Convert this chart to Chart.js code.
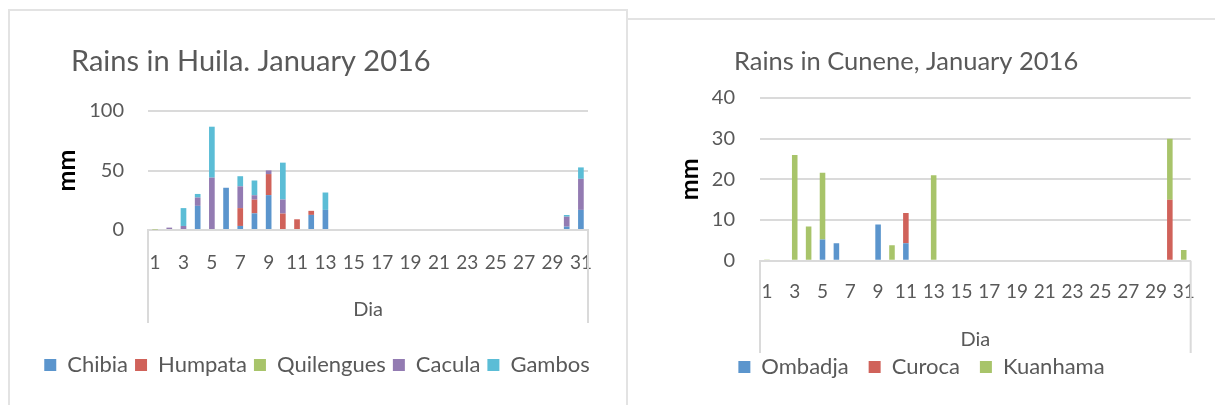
<!DOCTYPE html>
<html>
<head>
<meta charset="utf-8">
<script src="https://cdn.jsdelivr.net/npm/chart.js@4.4.1/dist/chart.umd.min.js"></script>
<style>
  html, body { margin: 0; padding: 0; background: #fff; width: 1215px; height: 405px; overflow: hidden; }
  #p1 { position: absolute; left: 8px; top: 9px; width: 616px; height: 420px; border-left: 2px solid #e3e3e3; border-top: 2px solid #e3e3e3; border-right: 2px solid #e3e3e3; }
  #p2 { position: absolute; left: 626px; top: 18px; width: 600px; height: 420px; border-top: 2px solid #e3e3e3; }
  #c1 { position: absolute; left: 10px; top: 11px; }
  #c2 { position: absolute; left: 628px; top: 20px; }
</style>
</head>
<body>
<div id="p1"></div>
<div id="p2"></div>
<canvas id="c1" width="614" height="394" style="width:614px;height:394px"></canvas>
<canvas id="c2" width="587" height="385" style="width:587px;height:385px"></canvas>
<script>
// ---------- data ----------
const DAYS = ['1','2','3','4','5','6','7','8','9','10','11','12','13','14','15','16','17','18','19','20','21','22','23','24','25','26','27','28','29','30','31'];
const TICK_LABELS = ['1','','3','','5','','7','','9','','11','','13','','15','','17','','19','','21','','23','','25','','27','','29','','31'];

const HUILA_TITLE = 'Rains in Huila. January 2016';
const HUILA_SERIES = ['Chibia','Humpata','Quilengues','Cacula','Gambos'];
const CHIBIA     = [0,0,0,20.3,0,35.5,3.4,14,29.3,0,0,12.7,16.9,0,0,0,0,0,0,0,0,0,0,0,0,0,0,0,0,2.8,16.9];
const HUMPATA    = [0,0,0,0,0,0,15,11.5,17.7,13.8,9,3.4,0,0,0,0,0,0,0,0,0,0,0,0,0,0,0,0,0,0,0];
const QUILENGUES = [0.4,0,0,0,0,0,0,0,0,0,0,0,0,0,0,0,0,0,0,0,0,0,0,0,0,0,0,0,0,0,0];
const CACULA     = [0,2,3.4,7,44,0,18.3,3.7,3.1,11.8,0,0,0,0,0,0,0,0,0,0,0,0,0,0,0,0,0,0,0,8.4,26.1];
const GAMBOS     = [0,0,15,3,42.8,0,8.5,12.4,0,31,0,0,14.6,0,0,0,0,0,0,0,0,0,0,0,0,0,0,0,0,1.4,9.6];

const CUNENE_TITLE = 'Rains in Cunene, January 2016';
const CUNENE_SERIES = ['Ombadja','Curoca','Kuanhama'];
const OMBADJA  = [0,0,0,0,5.2,4.3,0,0,8.9,0,4.3,0,0,0,0,0,0,0,0,0,0,0,0,0,0,0,0,0,0,0,0];
const CUROCA   = [0,0,0,0,0,0,0,0,0,0,7.4,0,0,0,0,0,0,0,0,0,0,0,0,0,0,0,0,0,0,15,0];
const KUANHAMA = [0.3,0,26,8.4,16.4,0,0,0,0,3.8,0,0,21,0,0,0,0,0,0,0,0,0,0,0,0,0,0,0,0,15,2.6];

const Y_TICKS_HUILA = [0, 50, 100];
const Y_TICKS_CUNENE = [0, 10, 20, 30, 40];

// ---------- styles ----------
const C_BLUE = '#5B95CD', C_RED = '#D0625A', C_GREEN = '#A8C46A', C_PURPLE = '#937BB2', C_CYAN = '#5BBDD6';
const GRID = '#DADADA';
const TEXT = '#595959';
const FONT = 'Lato';
Chart.defaults.color = TEXT;
Chart.defaults.font.family = FONT;

const titlePlugin = {
  id: 'freeTitle',
  afterDraw(chart, args, opts) {
    const ctx = chart.ctx;
    ctx.save();
    ctx.font = `${opts.size}px ${FONT}`;
    ctx.fillStyle = TEXT;
    ctx.textBaseline = 'middle';
    ctx.textAlign = 'left';
    ctx.fillText(opts.text, opts.x, opts.y);
    ctx.restore();
  }
};
const framePlugin = {
  id: 'axisFrame',
  afterDraw(chart, args, opts) {
    const ctx = chart.ctx, a = chart.chartArea;
    ctx.save();
    ctx.strokeStyle = GRID;
    ctx.lineWidth = 2;
    ctx.beginPath();
    ctx.moveTo(a.left, a.bottom); ctx.lineTo(a.left, a.bottom + opts.depth);
    ctx.moveTo(a.right, a.bottom); ctx.lineTo(a.right, a.bottom + opts.depth);
    ctx.stroke();
    ctx.restore();
  }
};

function ds(label, data, color) {
  return { label, data, backgroundColor: color, borderWidth: 0, barPercentage: 0.4, categoryPercentage: 1.0 };
}

function makeOptions(cfg) {
  return {
    responsive: false,
    animation: false,
    layout: { autoPadding: false, padding: cfg.padding },
    plugins: {
      title: { display: false },
      tooltip: { enabled: false },
      legend: {
        position: 'bottom',
        labels: { boxWidth: 12, boxHeight: 12, padding: cfg.legendPad, font: { size: 22 }, color: TEXT }
      },
      freeTitle: cfg.title,
      axisFrame: { depth: cfg.frameDepth }
    },
    scales: {
      x: {
        stacked: true,
        afterFit: (s) => { s.height = cfg.xHeight; },
        grid: { display: true, drawOnChartArea: false, drawTicks: false },
        border: { display: true, color: GRID, width: 2 },
        ticks: { autoSkip: false, maxRotation: 0, minRotation: 0, padding: cfg.xTickPad, font: { size: 19 }, color: TEXT,
                 callback: (v, i) => TICK_LABELS[i] },
        title: { display: true, text: 'Dia', font: { size: 20 }, color: TEXT, padding: { top: 0, bottom: cfg.diaPadB } }
      },
      y: {
        stacked: true,
        min: 0, max: cfg.max,
        afterFit: (s) => { s.width = cfg.yWidth; },
        afterBuildTicks: (s) => { s.ticks = cfg.yTicks.map(v => ({ value: v })); },
        grid: { color: GRID, lineWidth: 2, drawTicks: false },
        border: { display: false },
        ticks: { padding: cfg.yTickPad, font: { size: 20 }, color: TEXT },
        title: { display: true, text: 'mm', font: { size: 25, weight: 'bold' }, color: '#000', padding: { top: cfg.mmPadT, bottom: 0 } }
      },
      yr: {
        position: 'right',
        display: true,
        afterFit: (s) => { s.width = cfg.rightGap; },
        grid: { display: false },
        border: { display: false },
        ticks: { display: false }
      }
    }
  };
}

new Chart(document.getElementById('c1'), {
  type: 'bar',
  data: {
    labels: DAYS,
    datasets: [
      ds(HUILA_SERIES[0], CHIBIA, C_BLUE),
      ds(HUILA_SERIES[1], HUMPATA, C_RED),
      ds(HUILA_SERIES[2], QUILENGUES, C_GREEN),
      ds(HUILA_SERIES[3], CACULA, C_PURPLE),
      ds(HUILA_SERIES[4], GAMBOS, C_CYAN)
    ]
  },
  options: makeOptions({
    padding: { left: 0, right: 0, top: 100, bottom: 19 },
    legendPad: 7, max: 100, yTicks: Y_TICKS_HUILA, yTickPad: 24, yWidth: 138, mmPadT: 42, rightGap: 36,
    xHeight: 117, xTickPad: 21, diaPadB: 25, frameDepth: 93,
    title: { text: HUILA_TITLE, x: 61, y: 51, size: 29 }
  }),
  plugins: [titlePlugin, framePlugin]
});

new Chart(document.getElementById('c2'), {
  type: 'bar',
  data: {
    labels: DAYS,
    datasets: [
      ds(CUNENE_SERIES[0], OMBADJA, C_BLUE),
      ds(CUNENE_SERIES[1], CUROCA, C_RED),
      ds(CUNENE_SERIES[2], KUANHAMA, C_GREEN)
    ]
  },
  options: makeOptions({
    padding: { left: 0, right: 0, top: 78, bottom: 17 },
    legendPad: 20, max: 40, yTicks: Y_TICKS_CUNENE, yTickPad: 25, yWidth: 132, mmPadT: 47, rightGap: 15,
    xHeight: 75.3, xTickPad: 20, diaPadB: -15.7, frameDepth: 92.3,
    title: { text: CUNENE_TITLE, x: 106, y: 42, size: 25.5 }
  }),
  plugins: [titlePlugin, framePlugin]
});
</script>
</body>
</html>
